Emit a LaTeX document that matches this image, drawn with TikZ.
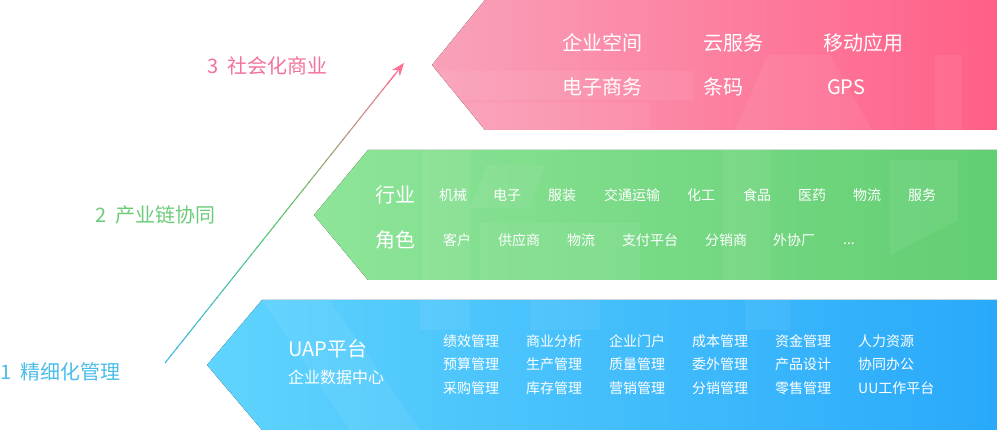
\documentclass[tikz,border=0pt]{standalone}
\usepackage{fontspec}
\setmainfont{Noto Sans CJK SC}
\usetikzlibrary{calc,arrows.meta}
\definecolor{pinkL}{HTML}{F9A2BA}
\definecolor{pinkR}{HTML}{FF5F87}
\definecolor{greenL}{HTML}{8EE599}
\definecolor{greenR}{HTML}{62CE72}
\definecolor{blueL}{HTML}{5FD4FD}
\definecolor{blueR}{HTML}{29A9FA}
\definecolor{labP}{HTML}{F2739A}
\definecolor{labG}{HTML}{6CCB78}
\definecolor{labB}{HTML}{4BBDEA}
\definecolor{arrB}{HTML}{3CB8E8}
\definecolor{arrG}{HTML}{5CC86C}
\definecolor{arrP}{HTML}{FF6F93}
\tikzset{
  wm/.style={fill=white, fill opacity=0.06},
  big/.style={anchor=west, inner sep=0pt, text=white, font=\fontsize{20}{22}\selectfont},
  small/.style={anchor=west, inner sep=0pt, text=white, font=\fontsize{14}{16}\selectfont},
  mid/.style={anchor=west, inner sep=0pt, text=white, font=\fontsize{16}{18}\selectfont},
  lab/.style={anchor=west, inner sep=0pt, font=\fontsize{20}{22}\selectfont},
}
\begin{document}
\begin{tikzpicture}[x=1pt,y=-1pt]
\useasboundingbox (0,0) rectangle (997,430);
% bands
\fill[left color=pinkL, right color=pinkR] (485,0) -- (997,0) -- (997,130) -- (485,130) -- (432,65) -- cycle;
\fill[left color=greenL, right color=greenR] (368,150) -- (997,150) -- (997,280) -- (368,280) -- (314,215) -- cycle;
\fill[left color=blueL, right color=blueR] (262,300) -- (997,300) -- (997,430) -- (262,430) -- (207,365) -- cycle;
% watermark shapes
\begin{scope}
\clip (485,0) -- (997,0) -- (997,130) -- (485,130) -- (432,65) -- cycle;
\fill[wm] (440,71) rectangle (693,100);
\fill[wm] (467,103) rectangle (650,130);
\fill[wm] (735,130) -- (768,55) -- (830,55) -- (872,130) -- cycle;
\fill[wm] (935,55) rectangle (962,130);
\end{scope}
\begin{scope}
\clip (368,150) -- (997,150) -- (997,280) -- (368,280) -- (314,215) -- cycle;
\fill[wm] (422,150) rectangle (470,280);
\fill[wm] (487,165) -- (545,165) -- (530,208) -- (470,208) -- cycle;
\fill[wm] (480,223) rectangle (640,280);
\fill[wm] (723,150) rectangle (770,280);
\fill[wm] (890,160) -- (958,160) -- (958,220) -- (890,255) -- cycle;
\end{scope}
\begin{scope}
\clip (262,300) -- (997,300) -- (997,430) -- (262,430) -- (207,365) -- cycle;
\fill[wm] (262,300) -- (330,300) -- (420,430) -- (350,430) -- cycle;
\fill[wm] (420,300) rectangle (470,330);
\fill[wm] (530,300) rectangle (600,330);
\fill[wm] (745,300) rectangle (790,330);
\end{scope}
% arrow
\coordinate (arrS) at (165,363);
\coordinate (arrE) at (404,63);
\foreach \i in {0,...,19}{
  \pgfmathsetmacro\ta{\i*0.024}
  \pgfmathsetmacro\tb{(\i+1)*0.024+0.003}
  \pgfmathtruncatemacro\p{\i*5}
  \draw[line width=1.1pt, color=arrG!\p!arrB] ($(arrS)!\ta!(arrE)$) -- ($(arrS)!\tb!(arrE)$);
}
\foreach \i in {0,...,19}{
  \pgfmathsetmacro\ta{0.48+\i*0.024}
  \pgfmathsetmacro\tb{0.48+(\i+1)*0.024+0.003}
  \pgfmathtruncatemacro\p{\i*5}
  \draw[line width=1.1pt, color=arrP!\p!arrG] ($(arrS)!\ta!(arrE)$) -- ($(arrS)!\tb!(arrE)$);
}
\draw[arrP, line width=1.1pt, -{Stealth[length=13pt,width=10pt]}] ($(arrS)!0.93!(arrE)$) -- (arrE);
% left labels
\node[lab, text=labP] (l3) at (207,66) {3\hspace{0.45em}社会化商业};
\node[lab, text=labG] (l2) at (95,215) {2\hspace{0.45em}产业链协同};
\node[lab, text=labB] (l1) at (0,372) {1\hspace{0.45em}精细化管理};
% pink band texts
\node[big] (p1) at (562,43) {企业空间};
\node[big] (p2) at (703,43) {云服务};
\node[big] (p3) at (823,43) {移动应用};
\node[big] (p4) at (562,87) {电子商务};
\node[big] (p5) at (703,87) {条码};
\node[big] (p6) at (827,87) {GPS};
% green band texts
\node[big] (g0) at (375,195) {行业};
\node[small] (g1) at (439,195) {机械};
\node[small] (g2) at (493,195) {电子};
\node[small] (g3) at (548,195) {服装};
\node[small] (g4) at (604,195) {交通运输};
\node[small] (g5) at (687,195) {化工};
\node[small] (g6) at (743,195) {食品};
\node[small] (g7) at (798,195) {医药};
\node[small] (g8) at (853,195) {物流};
\node[small] (g9) at (908,195) {服务};
\node[big] (r0) at (375,240) {角色};
\node[small] (r1) at (443,240) {客户};
\node[small] (r2) at (498,240) {供应商};
\node[small] (r3) at (567,240) {物流};
\node[small] (r4) at (622,240) {支付平台};
\node[small] (r5) at (705,240) {分销商};
\node[small] (r6) at (773,240) {外协厂};
\node[small, anchor=base west] (r7) at (843,245) {...};
% blue band texts
\node[big] (u1) at (288,349) {UAP平台};
\node[mid] (u2) at (288,377) {企业数据中心};
\foreach \c/\a/\b/\d [count=\k] in {
  443/绩效管理/预算管理/采购管理,
  526/商业分析/生产管理/库存管理,
  609/企业门户/质量管理/营销管理,
  692/成本管理/委外管理/分销管理,
  775/资金管理/产品设计/零售管理,
  858/人力资源/协同办公/UU工作平台}{
  \node[small] (ba\k) at (\c,341) {\a};
  \node[small] (bb\k) at (\c,364) {\b};
  \node[small] (bc\k) at (\c,388) {\d};
}
\end{tikzpicture}
\end{document}
